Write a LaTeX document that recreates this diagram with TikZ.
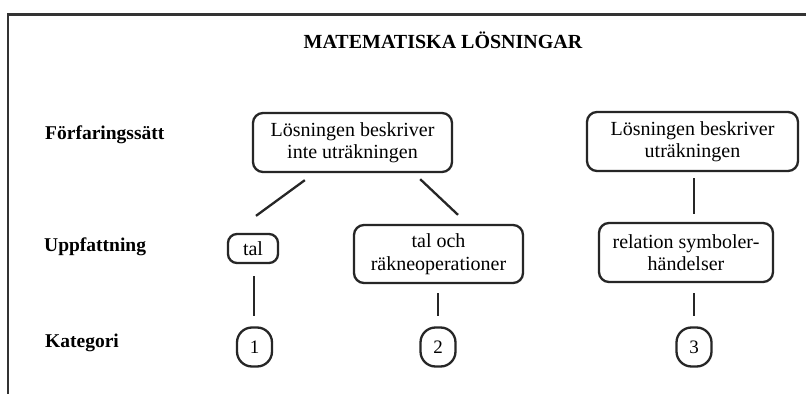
\documentclass[tikz,border=0pt]{standalone}
\usepackage{fontspec}
\setmainfont{Liberation Serif}
\begin{document}
\begin{tikzpicture}[x=1pt,y=1pt,
  ink/.style={draw=black!85, line width=2.3pt},
  box/.style={ink, rounded corners=10pt, inner sep=0pt, align=center,
    font=\fontsize{20}{22.5}\selectfont},
  num/.style={ink, rounded corners=15pt, inner sep=0pt,
    minimum width=35pt, minimum height=39pt, font=\fontsize{19}{20}\selectfont},
  rowlabel/.style={anchor=west, inner sep=0pt, font=\bfseries\fontsize{19.5}{22}\selectfont},
  conn/.style={draw=black!85, line width=2.3pt}]
  \fill[white] (0,0) rectangle (806,394);
  \useasboundingbox (0,0) rectangle (806,394);

  % frame: top rule and left rule
  \draw[draw=black!80, line width=2.6pt] (806,379.5) -- (8,379.5) -- (8,0);

  % heading
  \node[font=\bfseries\fontsize{20}{23}\selectfont, inner sep=0pt] (title) at (443,354) {MATEMATISKA LÖSNINGAR};

  % row labels
  \node[rowlabel] (lab1) at (45,259) {Förfaringssätt};
  \node[rowlabel] (lab2) at (44,147) {Uppfattning};
  \node[rowlabel] (lab3) at (45,51) {Kategori};

  % procedure boxes
  \node[box, minimum width=199pt, minimum height=59pt] (A) at (352.5,251.5)
    {Lösningen beskriver\\inte uträkningen};
  \node[box, minimum width=211pt, minimum height=59pt] (B) at (692.5,252.5)
    {Lösningen beskriver\\uträkningen};

  % conception boxes
  \node[box, minimum width=50pt, minimum height=29pt, rounded corners=9pt] (tal) at (253,145.5) {tal};
  \node[box, minimum width=169pt, minimum height=58pt] (och) at (438.5,140)
    {tal och\\räkneoperationer};
  \node[box, minimum width=174pt, minimum height=59pt] (rel) at (686,141.5)
    {relation symboler-\\händelser};

  % categories
  \node[num] (c1) at (254.5,47) {1};
  \node[num] (c2) at (438,47) {2};
  \node[num] (c3) at (694,47) {3};

  % connectors
  \draw[conn] ([shift={(53,-7)}]A.south west) -- ([shift={(3,17)}]tal.north);
  \draw[conn] ([shift={(-33,-6)}]A.south east) -- ([shift={(19.5,9)}]och.north);
  \draw[conn] ([shift={(1,-12)}]tal.south) -- ([shift={(-0.5,10)}]c1.north);
  \draw[conn] ([shift={(-0.5,-9)}]och.south) -- ([shift={(0,10)}]c2.north);
  \draw[conn] ([shift={(1.5,-6)}]B.south) -- ([shift={(8,8)}]rel.north);
  \draw[conn] ([shift={(8,-10)}]rel.south) -- ([shift={(0,10)}]c3.north);
\end{tikzpicture}
\end{document}
